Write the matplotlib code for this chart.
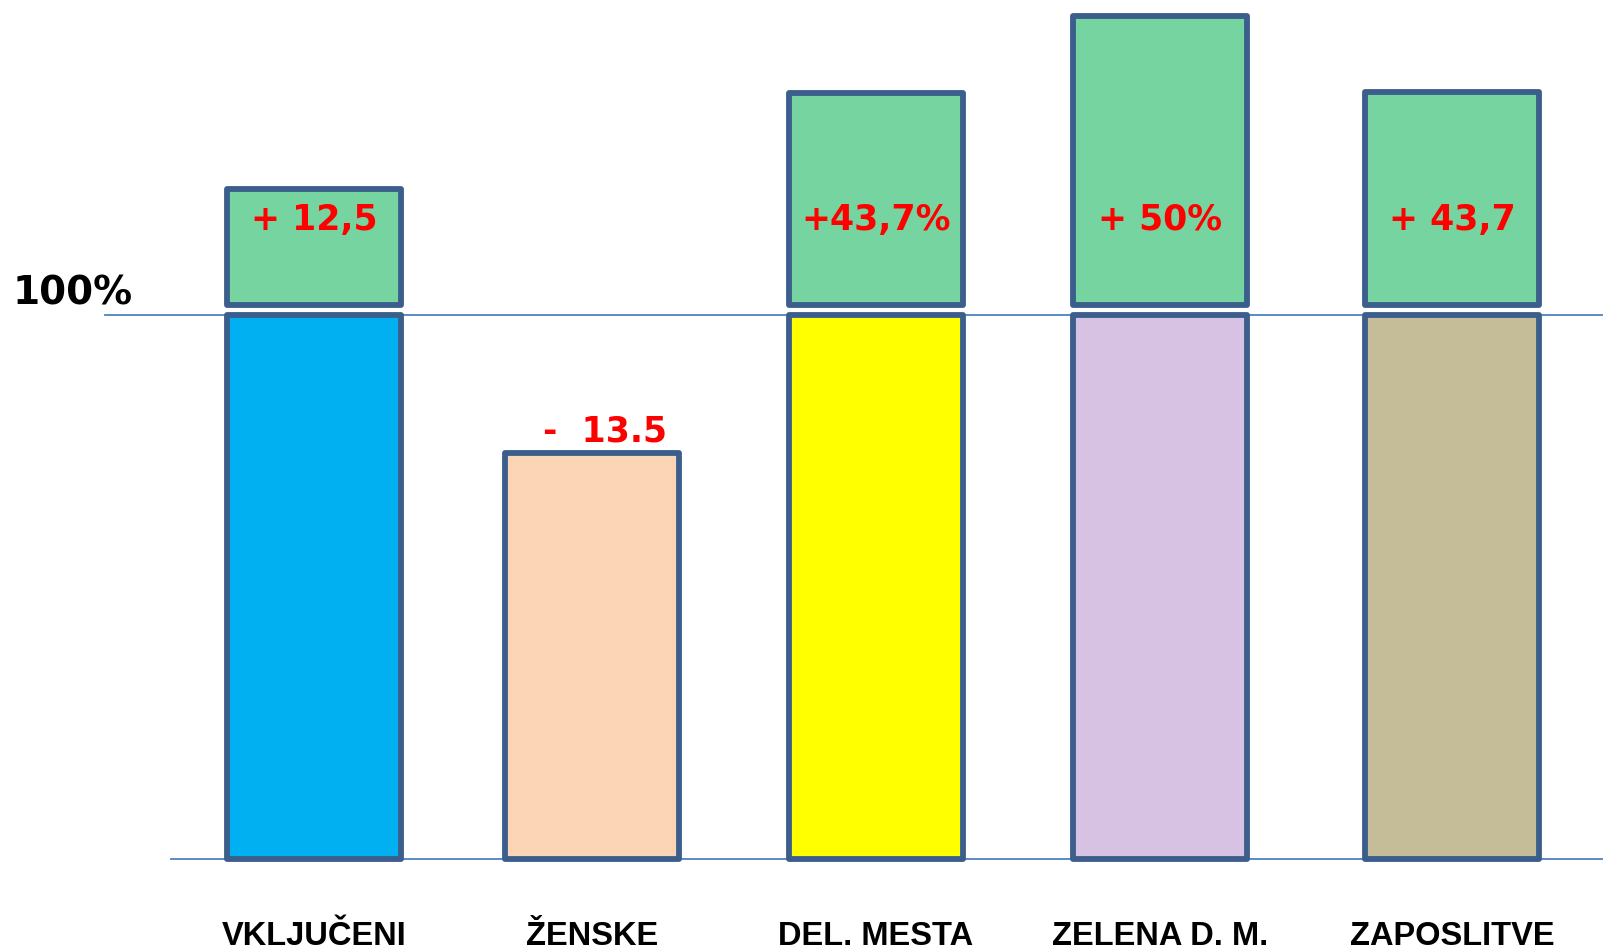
import matplotlib
matplotlib.use("Agg")
import matplotlib.pyplot as plt

categories = ["VKLJUČENI", "ŽENSKE", "DEL. MESTA", "ZELENA D. M.", "ZAPOSLITVE"]
base_values = [100, 74.6, 100, 100, 100]
increase_values = [21.4, 0, 39.0, 53.2, 39.2]
change_labels = ["+ 12,5", "-  13.5", "+43,7%", "+ 50%", "+ 43,7"]
base_colors = ["#00B0F0", "#FBD5B5", "#FFFF00", "#D7C2E3", "#C4BD97"]

# layout
x = [0, 0.977, 1.975, 2.973, 4.0]
bar_w = 0.61
edge = "#3B5E8C"
green = "#76D4A0"
line_col = "#4F81BD"
green_bottom = 101.8

fig = plt.figure(figsize=(16.03, 9.5), dpi=100)
ax = fig.add_axes([0, 0, 1, 1])
ax.set_xlim(-1.104, 4.531)
ax.set_ylim(-16.73, 157.9)
ax.axis("off")

# reference lines
ax.axhline(100, xmin=0.0655, xmax=1, color=line_col, lw=1.3, zorder=1)
ax.axhline(0, xmin=0.1067, xmax=1, color=line_col, lw=1.3, zorder=1)

ax.bar(x, base_values, width=bar_w, color=base_colors, edgecolor=edge,
       linewidth=4.2, joinstyle="round", zorder=2)
inc_x = [xi for xi, v in zip(x, increase_values) if v > 0]
inc_v = [v for v in increase_values if v > 0]
ax.bar(inc_x, inc_v, bottom=green_bottom, width=bar_w, color=green,
       edgecolor=edge, linewidth=4.2, joinstyle="round", zorder=2)

for i in range(len(categories)):
	if increase_values[i] > 0:
		lx, ly = x[i], 117.5
	else:
		lx, ly = x[i] + 0.045, base_values[i] + 3.9
	ax.text(lx, ly, change_labels[i], color="red", fontsize=25, fontweight="bold",
	        family="DejaVu Sans", ha="center", va="center", zorder=3)
	ax.text(x[i], -14.3, categories[i], fontsize=23.5, fontweight="bold",
	        family="Liberation Sans", ha="center", va="center")

ax.text(-1.06, 104.0, "100%", fontsize=28, fontweight="bold", family="DejaVu Sans",
        ha="left", va="center")

fig.savefig("out.png", dpi=100)
